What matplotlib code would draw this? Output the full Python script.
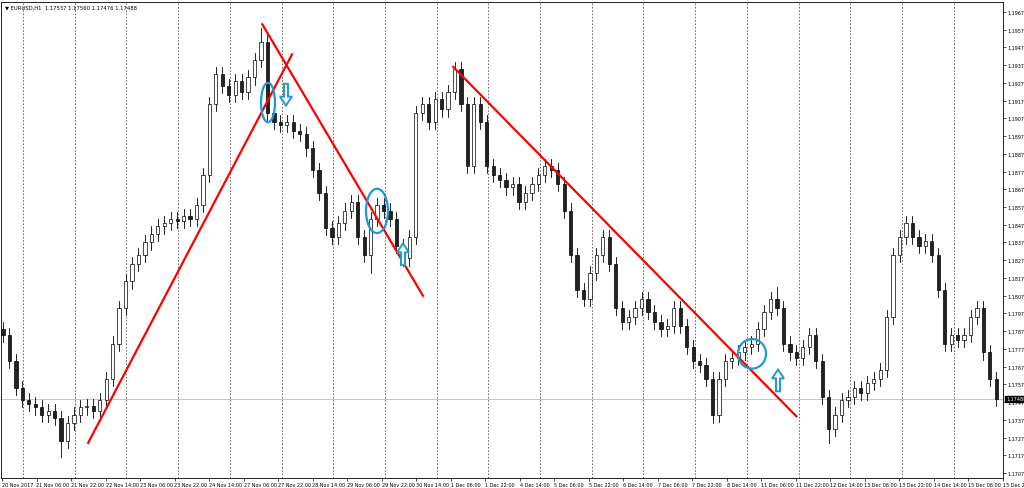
import matplotlib
matplotlib.use("Agg")
import matplotlib.pyplot as plt
from matplotlib.patches import Ellipse, FancyArrow, Rectangle
import numpy as np

# closes in pips above 1.1700 (one candle ~ 3 hourly bars)
closes_pips = [85,70,55,48,46, 44,40,42,38,25, 35,40,44,45,42, 48,60,80,100,115,
               125,130,137,142,146, 148,150,149,152,150, 158,175,215,232,225, 220,228,222,230,240,
               250,210,205,203,205, 200,198,190,178,165, 145,140,148,155,160, 140,130,150,158,155,
               150,135,128,140,210, 215,205,218,212,222, 235,215,180,215,205, 180,175,172,168,170,
               160,165,170,175,180, 178,170,155,130,110, 105,120,130,140,125, 100,92,95,100,105,
               98,92,88,90,100, 90,78,70,68,60, 40,60,70,72,75, 78,80,88,98,105,
               100,80,75,72,78, 85,70,50,32,40, 48,50,55,52,58, 60,65,95,130,140,
               148,140,135,138,130, 110,80,85,82,85, 95,100,75,60,48.8]
extra_high = {40: 258, 70: 237, 140: 150, 120: 112}
extra_low = {9: 16, 110: 35, 128: 24, 57: 120}
x_labels = ["20 Nov 2017","21 Nov 06:00","21 Nov 22:00","22 Nov 14:00","23 Nov 06:00","23 Nov 22:00",
            "24 Nov 14:00","27 Nov 06:00","27 Nov 22:00","28 Nov 14:00","29 Nov 06:00","29 Nov 22:00",
            "30 Nov 14:00","1 Dec 06:00","1 Dec 22:00","4 Dec 14:00","5 Dec 06:00","5 Dec 22:00",
            "6 Dec 14:00","7 Dec 06:00","7 Dec 22:00","8 Dec 14:00","11 Dec 06:00","11 Dec 22:00",
            "12 Dec 14:00","13 Dec 06:00","13 Dec 22:00","14 Dec 14:00","15 Dec 06:00","15 Dec 22:00"]
y_ticks = [1.1707 + 0.001*k for k in range(27)]
last_price = 1.17488
# trend lines (candle index, pips)
lines = [((13.2, 24), (44.8, 243)), ((40.2, 260), (65.1, 107)), ((69.8, 236), (123.0, 39))]

PX = 6.45  # px per candle
def px2i(x): return (x - 3) / PX
def py2p(y): return 1.1707 + (481 - y) * 0.026 / 468

fig = plt.figure(figsize=(10.24, 4.89), dpi=100)
ax = fig.add_axes([1/1024, 10/489, 1002/1024, 476/489])
ax.set_xlim(px2i(1), px2i(1003))
ax.set_ylim(py2p(486), py2p(3))

closes = [1.17 + c/10000 for c in closes_pips]
opens = [closes[0] + 0.0003] + closes[:-1]
for i, (o, c) in enumerate(zip(opens, closes)):
    hi = max(o, c) + 0.0004
    lo = min(o, c) - 0.0004
    if i in extra_high: hi = max(hi, 1.17 + extra_high[i]/10000)
    if i in extra_low: lo = min(lo, 1.17 + extra_low[i]/10000)
    ax.plot([i, i], [lo, hi], color="black", lw=0.6, zorder=2)
    up = c >= o
    ax.add_patch(Rectangle((i - 0.25, min(o, c)), 0.5, max(abs(c - o), 0.00003),
                           facecolor="white" if up else "#222222", edgecolor="black", lw=0.5, zorder=3))

# grid
for k in range(20):
    ax.axvline(px2i(23 + 51.7*k), color="#555555", ls=(0, (2, 2)), lw=0.6, zorder=1)
ax.axhline(last_price, color="#bbbbbb", lw=0.6, zorder=1)

for (x0, y0), (x1, y1) in lines:
    ax.plot([x0, x1], [1.17 + y0/10000, 1.17 + y1/10000], color="red", lw=1.6, zorder=5)

blue = "#1a9ad6"
for (cx, cy, w, h) in [(268, 105, 14, 40), (377, 215, 22, 45), (752, 360, 28, 30)]:
    ax.add_patch(Ellipse((px2i(cx), py2p(cy)), w/PX, (h*0.026/468), fill=False, ec=blue, lw=1.6, zorder=6))
for (x, y, d) in [(286, 86, -1), (403, 270, 1), (778, 398, 1)]:
    ax.add_patch(FancyArrow(px2i(x), py2p(y), 0, d*22*0.026/468, width=4/PX, head_width=12/PX,
                            head_length=9*0.026/468, length_includes_head=True,
                            fc="white", ec=blue, lw=1.4, zorder=6))

ax.yaxis.tick_right()
ax.set_yticks(y_ticks)
ax.set_yticklabels([f"{v:.5f}" for v in y_ticks], fontsize=3.5)
ax.tick_params(axis="y", length=2, pad=1, width=0.5)
ax.set_xticks([px2i(2 + 34.5*k) for k in range(len(x_labels))])
ax.set_xticklabels(x_labels, fontsize=3.5, ha="left")
ax.tick_params(axis="x", length=2, pad=1, width=0.5)
for s in ax.spines.values(): s.set_linewidth(0.6)
ax.text(px2i(1006), last_price, f"{last_price:.5f}", fontsize=3.5, color="white", va="center",
        bbox=dict(fc="black", ec="black", pad=0.6), clip_on=False, zorder=7)
ax.text(0.004, 0.995, "\u25bc EURUSD,H1  1.17537 1.17560 1.17476 1.17488", transform=ax.transAxes,
        fontsize=3.8, va="top", ha="left")
fig.savefig("out.png", dpi=100)
